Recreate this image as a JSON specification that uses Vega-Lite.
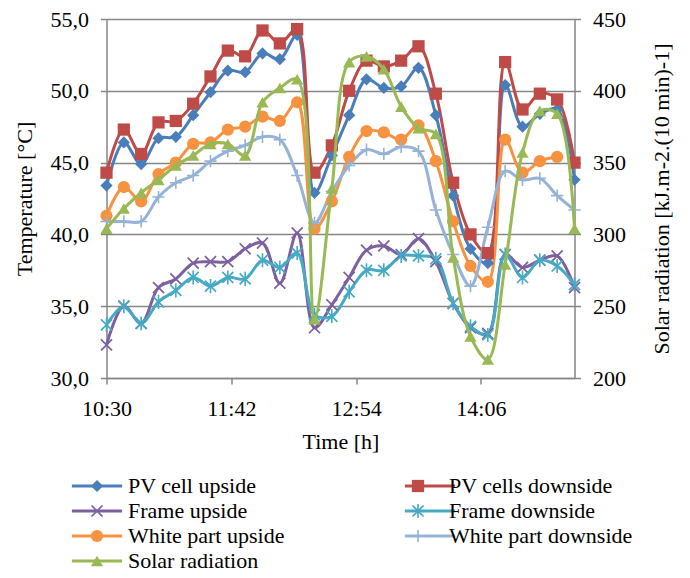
{
  "$schema": "https://vega.github.io/schema/vega-lite/v6.json",
  "width": 468,
  "height": 359,
  "autosize": {"type": "none"},
  "padding": {"left": 106.5, "top": 19, "right": 115.5, "bottom": 200},
  "background": "white",
  "config": {
    "view": {"stroke": null},
    "font": "Liberation Serif",
    "axis": {
      "labelFont": "Liberation Serif", "labelFontSize": 22, "labelColor": "#000000",
      "titleFont": "Liberation Serif", "titleFontSize": 22, "titleFontWeight": "normal", "titleColor": "#000000",
      "domainColor": "#868686", "domainWidth": 1.5, "tickColor": "#868686", "tickWidth": 1.5, "tickSize": 6,
      "gridColor": "#868686", "gridWidth": 1.5
    },
    "legend": {
      "orient": "none", "legendX": -31.5, "legendY": 456, "columns": 2, "direction": "horizontal", "columnPadding": 111, "rowPadding": 3,
      "padding": 0, "title": null, "labelFont": "Liberation Serif", "labelFontSize": 22, "labelColor": "#000000",
      "labelLimit": 400, "symbolSize": 150, "symbolOffset": 11, "labelOffset": 20
    }
  },
  "data": {"values": [
    {"time": "2020-01-01T10:30:00", "PV cell upside": 43.4, "PV cells downside": 44.3, "Frame upside": 32.3, "Frame downside": 33.7, "White part upside": 41.3, "White part downside": 40.9, "Solar radiation": 304},
    {"time": "2020-01-01T10:40:00", "PV cell upside": 46.4, "PV cells downside": 47.3, "Frame upside": 35.0, "Frame downside": 35.0, "White part upside": 43.3, "White part downside": 40.9, "Solar radiation": 318},
    {"time": "2020-01-01T10:50:00", "PV cell upside": 44.9, "PV cells downside": 45.6, "Frame upside": 33.8, "Frame downside": 33.8, "White part upside": 42.3, "White part downside": 40.9, "Solar radiation": 329},
    {"time": "2020-01-01T11:00:00", "PV cell upside": 46.7, "PV cells downside": 47.8, "Frame upside": 36.3, "Frame downside": 35.3, "White part upside": 44.2, "White part downside": 42.6, "Solar radiation": 338},
    {"time": "2020-01-01T11:10:00", "PV cell upside": 46.8, "PV cells downside": 47.9, "Frame upside": 36.9, "Frame downside": 36.1, "White part upside": 45.0, "White part downside": 43.6, "Solar radiation": 348},
    {"time": "2020-01-01T11:20:00", "PV cell upside": 48.3, "PV cells downside": 49.1, "Frame upside": 38.0, "Frame downside": 37.0, "White part upside": 46.3, "White part downside": 44.1, "Solar radiation": 355},
    {"time": "2020-01-01T11:30:00", "PV cell upside": 49.9, "PV cells downside": 51.0, "Frame upside": 38.1, "Frame downside": 36.4, "White part upside": 46.4, "White part downside": 45.1, "Solar radiation": 363},
    {"time": "2020-01-01T11:40:00", "PV cell upside": 51.4, "PV cells downside": 52.8, "Frame upside": 38.1, "Frame downside": 37.0, "White part upside": 47.3, "White part downside": 45.8, "Solar radiation": 363},
    {"time": "2020-01-01T11:50:00", "PV cell upside": 51.3, "PV cells downside": 52.4, "Frame upside": 39.0, "Frame downside": 36.9, "White part upside": 47.5, "White part downside": 46.2, "Solar radiation": 355},
    {"time": "2020-01-01T12:00:00", "PV cell upside": 52.6, "PV cells downside": 54.2, "Frame upside": 39.4, "Frame downside": 38.2, "White part upside": 48.2, "White part downside": 46.8, "Solar radiation": 392},
    {"time": "2020-01-01T12:10:00", "PV cell upside": 52.2, "PV cells downside": 53.3, "Frame upside": 36.6, "Frame downside": 37.7, "White part upside": 47.9, "White part downside": 46.6, "Solar radiation": 402},
    {"time": "2020-01-01T12:20:00", "PV cell upside": 53.9, "PV cells downside": 54.3, "Frame upside": 40.1, "Frame downside": 38.7, "White part upside": 49.2, "White part downside": 44.1, "Solar radiation": 408},
    {"time": "2020-01-01T12:30:00", "PV cell upside": 42.9, "PV cells downside": 44.3, "Frame upside": 33.5, "Frame downside": 34.4, "White part upside": 40.4, "White part downside": 40.8, "Solar radiation": 241},
    {"time": "2020-01-01T12:40:00", "PV cell upside": 45.5, "PV cells downside": 46.2, "Frame upside": 35.1, "Frame downside": 34.3, "White part upside": 42.3, "White part downside": 43.0, "Solar radiation": 332},
    {"time": "2020-01-01T12:50:00", "PV cell upside": 48.3, "PV cells downside": 50.0, "Frame upside": 37.0, "Frame downside": 36.0, "White part upside": 45.4, "White part downside": 44.8, "Solar radiation": 420},
    {"time": "2020-01-01T13:00:00", "PV cell upside": 50.8, "PV cells downside": 52.1, "Frame upside": 38.9, "Frame downside": 37.5, "White part upside": 47.2, "White part downside": 45.9, "Solar radiation": 424},
    {"time": "2020-01-01T13:10:00", "PV cell upside": 50.2, "PV cells downside": 51.7, "Frame upside": 39.2, "Frame downside": 37.5, "White part upside": 47.1, "White part downside": 45.6, "Solar radiation": 415},
    {"time": "2020-01-01T13:20:00", "PV cell upside": 50.3, "PV cells downside": 52.1, "Frame upside": 38.6, "Frame downside": 38.5, "White part upside": 46.6, "White part downside": 46.1, "Solar radiation": 389},
    {"time": "2020-01-01T13:30:00", "PV cell upside": 51.6, "PV cells downside": 53.1, "Frame upside": 39.7, "Frame downside": 38.5, "White part upside": 47.6, "White part downside": 45.8, "Solar radiation": 374},
    {"time": "2020-01-01T13:40:00", "PV cell upside": 48.3, "PV cells downside": 49.8, "Frame upside": 38.1, "Frame downside": 38.3, "White part upside": 45.1, "White part downside": 41.7, "Solar radiation": 370},
    {"time": "2020-01-01T13:50:00", "PV cell upside": 42.7, "PV cells downside": 43.6, "Frame upside": 35.2, "Frame downside": 35.2, "White part upside": 40.9, "White part downside": 38.6, "Solar radiation": 284},
    {"time": "2020-01-01T14:00:00", "PV cell upside": 39.0, "PV cells downside": 40.0, "Frame upside": 33.5, "Frame downside": 33.6, "White part upside": 37.8, "White part downside": 36.4, "Solar radiation": 229},
    {"time": "2020-01-01T14:10:00", "PV cell upside": 38.0, "PV cells downside": 38.7, "Frame upside": 33.1, "Frame downside": 33.0, "White part upside": 36.7, "White part downside": 40.5, "Solar radiation": 213},
    {"time": "2020-01-01T14:20:00", "PV cell upside": 50.4, "PV cells downside": 52.0, "Frame upside": 38.6, "Frame downside": 38.6, "White part upside": 46.6, "White part downside": 44.4, "Solar radiation": 279},
    {"time": "2020-01-01T14:30:00", "PV cell upside": 47.5, "PV cells downside": 48.7, "Frame upside": 37.7, "Frame downside": 37.0, "White part upside": 44.3, "White part downside": 43.8, "Solar radiation": 357},
    {"time": "2020-01-01T14:40:00", "PV cell upside": 48.4, "PV cells downside": 49.8, "Frame upside": 38.2, "Frame downside": 38.2, "White part upside": 45.1, "White part downside": 43.9, "Solar radiation": 386},
    {"time": "2020-01-01T14:50:00", "PV cell upside": 48.7, "PV cells downside": 49.4, "Frame upside": 38.5, "Frame downside": 37.8, "White part upside": 45.4, "White part downside": 42.7, "Solar radiation": 384},
    {"time": "2020-01-01T15:00:00", "PV cell upside": 43.8, "PV cells downside": 45.0, "Frame upside": 36.3, "Frame downside": 36.5, "White part upside": null, "White part downside": 41.7, "Solar radiation": 304}
  ]},
  "encoding": {
    "x": {
      "field": "time", "type": "temporal",
      "scale": {"domain": [{"year": 2020, "month": 1, "date": 1, "hours": 10, "minutes": 30}, {"year": 2020, "month": 1, "date": 1, "hours": 15, "minutes": 0}], "nice": false},
      "axis": {
        "title": "Time [h]", "format": "%H:%M", "grid": false, "labelPadding": 14, "titlePadding": 12, "labelFlush": false,
        "values": [
          {"year": 2020, "month": 1, "date": 1, "hours": 10, "minutes": 30},
          {"year": 2020, "month": 1, "date": 1, "hours": 11, "minutes": 42},
          {"year": 2020, "month": 1, "date": 1, "hours": 12, "minutes": 54},
          {"year": 2020, "month": 1, "date": 1, "hours": 14, "minutes": 6}
        ]
      }
    }
  },
  "layer": [
    {
      "transform": [{"fold": ["PV cell upside", "PV cells downside", "Frame upside", "Frame downside", "White part upside", "White part downside"], "as": ["series", "value"]}],
      "encoding": {
        "y": {
          "field": "value", "type": "quantitative",
          "scale": {"domain": [30, 55], "nice": false, "zero": false},
          "axis": {"title": "Temperature [°C]", "values": [30, 35, 40, 45, 50, 55], "labelExpr": "replace(format(datum.value, '.1f'), '.', ',')", "grid": true, "labelPadding": 12, "titlePadding": 14}
        }
      },
      "layer": [
        {
          "mark": {"type": "line", "interpolate": "catmull-rom", "strokeWidth": 3},
          "encoding": {
            "stroke": {"field": "series", "type": "nominal",
              "scale": {"domain": ["PV cell upside", "PV cells downside", "Frame upside", "Frame downside", "White part upside", "White part downside", "Solar radiation", "zz"],
                        "range": ["#4A7EBB", "#BE4B48", "#7D60A0", "#46AAC5", "#F69240", "#95B3D7", "#98B954", "#000000"]},
              "legend": {"symbolType": "M-4.1,0L4.1,0", "symbolStrokeWidth": 3, "labelExpr": "''", "labelOffset": 0, "columnPadding": 269, "zindex": 0,
                         "values": ["PV cell upside", "PV cells downside", "Frame upside", "Frame downside", "White part upside", "White part downside", "Solar radiation"]}}
          }
        },
        {
          "mark": {"type": "point", "filled": true, "size": 150, "opacity": 1},
          "encoding": {
            "fill": {"field": "series", "type": "nominal",
              "scale": {"domain": ["PV cell upside", "PV cells downside", "Frame upside", "Frame downside", "White part upside", "White part downside", "Solar radiation"],
                        "range": ["#4A7EBB", "#BE4B48", "#7D60A0", "#46AAC5", "#F69240", "#95B3D7", "#98B954"]},
              "legend": {"zindex": 1, "symbolStrokeWidth": 0}},
            "shape": {"field": "series", "type": "nominal",
              "scale": {"domain": ["PV cell upside", "PV cells downside", "Frame upside", "Frame downside", "White part upside", "White part downside", "Solar radiation"],
                        "range": ["diamond", "square",
                                  "M-1,-0.8L-0.8,-1L0,-0.2L0.8,-1L1,-0.8L0.2,0L1,0.8L0.8,1L0,0.2L-0.8,1L-1,0.8L-0.2,0Z",
                                  "M-1,-0.8L-0.8,-1L0,-0.2L0.8,-1L1,-0.8L0.2,0L1,0.8L0.8,1L0,0.2L-0.8,1L-1,0.8L-0.2,0ZM-0.13,-1.15L0.13,-1.15L0.13,1.15L-0.13,1.15Z",
                                  "circle",
                                  "M-1,-0.13L-0.13,-0.13L-0.13,-1L0.13,-1L0.13,-0.13L1,-0.13L1,0.13L0.13,0.13L0.13,1L-0.13,1L-0.13,0.13L-1,0.13Z",
                                  "triangle-up"]},
              "legend": {"zindex": 1, "symbolStrokeWidth": 0}}
          }
        }
      ]
    },
    {
      "transform": [{"fold": ["Solar radiation"], "as": ["series", "value"]}],
      "encoding": {
        "y": {
          "field": "value", "type": "quantitative",
          "scale": {"domain": [200, 450], "nice": false, "zero": false},
          "axis": {"title": "Solar radiation [kJ.m-2.(10 min)-1]", "orient": "right", "values": [200, 250, 300, 350, 400, 450], "grid": false, "labelPadding": 12, "titlePadding": 26, "titleAngle": 270, "titleBaseline": "top"}
        }
      },
      "layer": [
        {
          "mark": {"type": "line", "interpolate": "catmull-rom", "strokeWidth": 3},
          "encoding": {
            "stroke": {"field": "series", "type": "nominal",
              "scale": {"domain": ["PV cell upside", "PV cells downside", "Frame upside", "Frame downside", "White part upside", "White part downside", "Solar radiation", "zz"],
                        "range": ["#4A7EBB", "#BE4B48", "#7D60A0", "#46AAC5", "#F69240", "#95B3D7", "#98B954", "#000000"]},
              "legend": {"symbolType": "M-4.1,0L4.1,0", "symbolStrokeWidth": 3, "labelExpr": "''", "labelOffset": 0, "columnPadding": 269, "zindex": 0,
                         "values": ["PV cell upside", "PV cells downside", "Frame upside", "Frame downside", "White part upside", "White part downside", "Solar radiation"]}}
          }
        },
        {
          "mark": {"type": "point", "filled": true, "size": 150, "opacity": 1},
          "encoding": {
            "fill": {"field": "series", "type": "nominal",
              "scale": {"domain": ["PV cell upside", "PV cells downside", "Frame upside", "Frame downside", "White part upside", "White part downside", "Solar radiation"],
                        "range": ["#4A7EBB", "#BE4B48", "#7D60A0", "#46AAC5", "#F69240", "#95B3D7", "#98B954"]},
              "legend": {"zindex": 1, "symbolStrokeWidth": 0}},
            "shape": {"field": "series", "type": "nominal",
              "scale": {"domain": ["PV cell upside", "PV cells downside", "Frame upside", "Frame downside", "White part upside", "White part downside", "Solar radiation"],
                        "range": ["diamond", "square",
                                  "M-1,-0.8L-0.8,-1L0,-0.2L0.8,-1L1,-0.8L0.2,0L1,0.8L0.8,1L0,0.2L-0.8,1L-1,0.8L-0.2,0Z",
                                  "M-1,-0.8L-0.8,-1L0,-0.2L0.8,-1L1,-0.8L0.2,0L1,0.8L0.8,1L0,0.2L-0.8,1L-1,0.8L-0.2,0ZM-0.13,-1.15L0.13,-1.15L0.13,1.15L-0.13,1.15Z",
                                  "circle",
                                  "M-1,-0.13L-0.13,-0.13L-0.13,-1L0.13,-1L0.13,-0.13L1,-0.13L1,0.13L0.13,0.13L0.13,1L-0.13,1L-0.13,0.13L-1,0.13Z",
                                  "triangle-up"]},
              "legend": {"zindex": 1, "symbolStrokeWidth": 0}}
          }
        }
      ]
    }
  ],
  "resolve": {"scale": {"y": "independent"}}
}
